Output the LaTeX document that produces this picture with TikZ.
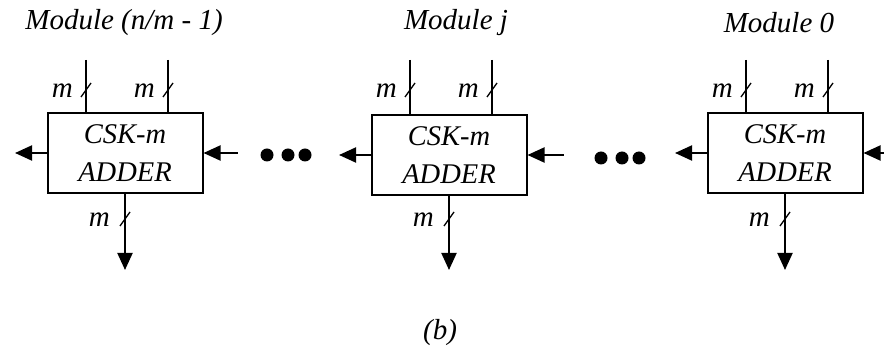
\documentclass[tikz,border=0pt]{standalone}
\usepackage{fontspec}
\setmainfont{Liberation Serif}
\usetikzlibrary{arrows.meta}
\tikzset{
 box/.style={draw, line width=2pt, minimum width=155pt, minimum height=80pt, inner sep=0pt, align=center, font=\fontsize{28.5}{38}\selectfont\itshape},
 wire/.style={line width=2pt},
 arr/.style={wire, -{Triangle[length=17pt,width=15pt]}},
 lbl/.style={font=\fontsize{29}{30}\selectfont\itshape, anchor=east, inner sep=0pt},
 ttl/.style={font=\fontsize{29}{30}\selectfont\itshape, inner sep=0pt},
 bigdot/.style={circle, fill, draw=none, inner sep=0pt, minimum size=13pt},
 slashmark/.style={line width=1.3pt},
}
\newcommand{\cskmodule}[6]{% #1 name, #2 cx, #3 cy, #4 title, #5 right input length, #6 title x
 \node[box] (#1) at (#2,#3) {CSK-m\\ADDER};
 \node[ttl] (#1t) at (#6,23) {#4};
 \coordinate (#1ia) at (#2-39,60);
 \coordinate (#1ib) at (#2+43,60);
 \coordinate (#1o) at (#2,270);
 \coordinate (#1l) at (#2-110,#3);
 \coordinate (#1r) at (#2+77.5+#5,#3);
 \draw[wire] (#1ia) -- (#1ia |- #1.north);
 \draw[wire] (#1ib) -- (#1ib |- #1.north);
 \draw[arr] (#1.south) -- (#1o);
 \draw[arr] (#1.west) -- (#1l);
 \draw[arr] (#1r) -- (#1.east);
 \draw[slashmark] (#2-39-5,97) -- (#2-39+5,83);
 \draw[slashmark] (#2+43-5,97) -- (#2+43+5,83);
 \draw[slashmark] (#2-5,226) -- (#2+5,212);
 \node[lbl] (#1ma) at (#2-39-13,91) {m};
 \node[lbl] (#1mb) at (#2+43-13,91) {m};
 \node[lbl] (#1mo) at (#2-15,220) {m};
}
\begin{document}
\begin{tikzpicture}[x=1pt,y=-1pt]
\useasboundingbox (0,0) rectangle (884,352);
\cskmodule{a}{125}{153}{Module (n/m - 1)}{35}{124}
\cskmodule{b}{449}{155}{Module j}{37}{456}
\cskmodule{c}{785}{153}{Module 0}{25}{779}
\node[bigdot] (d1) at (267,155) {};
\node[bigdot] (d2) at (288,155) {};
\node[bigdot] (d3) at (305,155) {};
\node[bigdot] (d4) at (601,158) {};
\node[bigdot] (d5) at (622,158) {};
\node[bigdot] (d6) at (639,158) {};
\node[ttl] (cap) at (440,333) {(b)};
\end{tikzpicture}
\end{document}
